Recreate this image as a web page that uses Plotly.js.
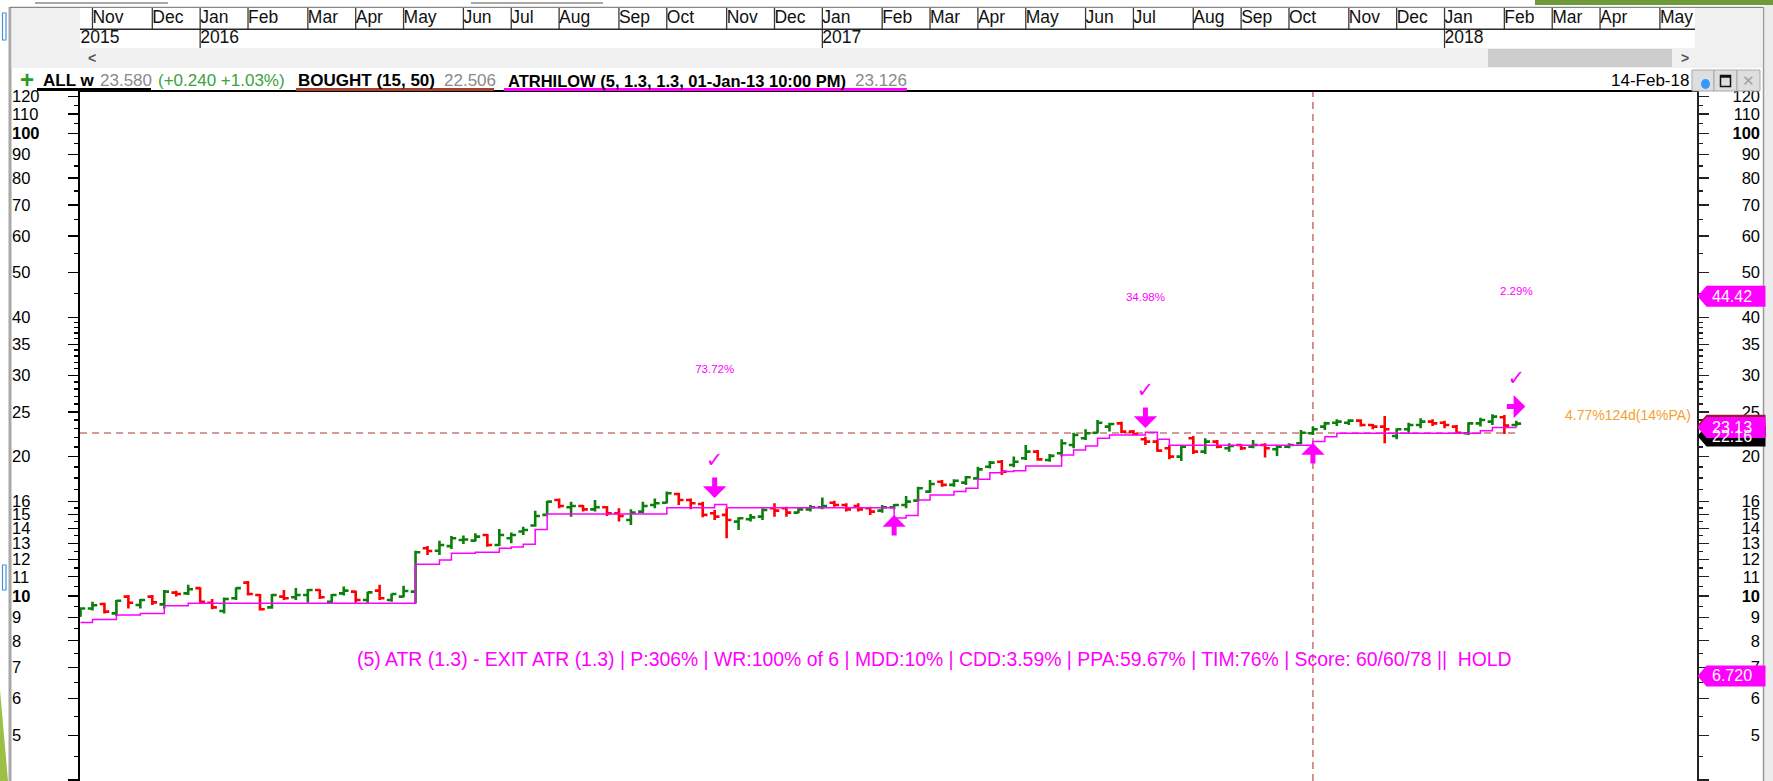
<!DOCTYPE html>
<html><head><meta charset="utf-8">
<script src="https://cdn.plot.ly/plotly-3.0.1.min.js"></script>
<style>html,body{margin:0;padding:0;background:#fff;overflow:hidden}#chart{width:1773px;height:781px}</style>
</head><body><div id="chart"></div>
<script>
const W = 1773, H = 781;
const firstWeek = '2015-10-26';
const opens = [9.05,9.40,9.61,9.17,9.97,9.56,9.97,9.59,10.17,10.13,
10.40,9.67,9.28,9.89,10.69,10.05,9.45,9.97,9.94,10.05,
10.30,9.72,10.13,10.22,9.80,10.27,9.80,9.97,10.22,12.68,
12.53,12.82,13.21,13.17,13.55,12.89,13.33,13.78,14.20,14.97,
16.12,15.55,15.65,15.39,15.55,15.09,14.60,15.22,15.73,15.91,
16.61,16.12,15.81,15.09,14.97,14.48,14.65,14.84,15.47,15.47,
15.14,15.39,15.55,15.91,15.73,15.65,15.47,15.29,15.55,15.73,
16.07,16.81,17.66,17.38,17.58,17.96,19.03,19.51,19.19,19.84,
20.51,19.68,20.34,21.20,21.92,22.54,23.23,23.61,22.66,21.81,
21.56,20.86,20.01,21.92,20.51,21.56,20.86,21.20,21.03,21.20,
20.75,21.03,21.38,22.47,23.23,23.69,23.69,23.93,23.42,23.23,
22.17,22.92,23.42,23.81,23.69,23.23,22.47,23.61,23.81,24.33,
23.42];
const highs = [9.45,9.72,9.67,9.80,10.05,9.85,10.05,10.30,10.27,10.57,
10.45,9.85,9.92,10.43,10.78,10.10,10.10,10.30,10.40,10.36,
10.34,10.10,10.48,10.27,10.22,10.57,10.13,10.52,12.53,12.82,
13.17,13.48,13.51,13.66,13.62,13.96,13.71,14.12,15.29,16.04,
16.25,15.99,15.73,16.12,15.65,15.47,15.39,15.99,16.25,16.81,
16.72,16.25,15.99,15.34,15.47,14.79,15.04,15.47,15.86,15.60,
15.47,15.73,16.33,16.07,15.86,15.86,15.60,15.73,15.81,16.45,
17.23,17.81,17.81,17.87,18.17,19.03,19.58,19.68,20.01,21.20,
20.68,20.28,21.81,22.54,22.92,24.01,23.69,23.81,22.84,22.10,
21.74,21.20,21.20,22.17,21.92,21.74,21.38,21.27,21.74,21.38,
21.20,21.38,22.84,23.23,23.81,24.09,24.09,24.09,23.53,24.49,
23.03,23.69,24.21,24.09,23.93,23.42,23.73,24.29,24.70,24.62,
23.93];
const lows = [9.02,9.30,9.17,9.05,9.40,9.40,9.56,9.40,9.97,10.05,
9.67,9.36,9.17,9.80,10.02,9.30,9.38,9.80,9.80,9.67,
9.85,9.67,10.02,9.67,9.67,9.80,9.72,9.94,9.64,12.27,
12.27,12.63,12.96,13.11,12.78,12.82,13.00,13.55,14.12,14.95,
15.47,14.84,15.22,15.22,14.89,14.48,14.24,15.09,15.47,15.86,
15.73,15.39,14.79,14.60,13.33,13.89,14.48,14.60,14.84,14.84,
15.09,15.22,15.39,15.60,15.22,15.22,14.97,15.14,15.39,15.47,
15.99,16.72,17.23,17.23,17.38,17.87,18.87,18.26,18.97,19.68,
19.61,19.51,20.01,20.86,21.74,22.47,22.66,22.47,22.28,21.20,
20.51,19.74,19.58,20.28,20.28,20.86,20.51,20.68,20.86,19.91,
20.08,20.86,21.31,22.28,22.84,23.30,23.42,23.23,22.92,21.38,
21.81,22.47,23.03,23.30,23.03,22.47,22.28,23.23,23.42,22.40,
23.23];
const closes = [9.40,9.55,9.25,9.77,9.67,9.80,9.69,10.22,10.10,10.34,
9.72,9.45,9.85,10.40,10.10,9.36,10.05,9.89,10.05,10.30,
9.94,10.05,10.27,9.80,10.18,9.89,10.10,10.25,12.43,12.51,
12.89,13.33,13.25,13.44,12.89,13.55,13.55,13.89,14.89,15.99,
15.65,15.65,15.39,15.55,15.09,14.89,15.14,15.65,15.86,16.67,
16.12,15.86,14.97,14.84,14.60,14.72,14.79,15.34,15.29,15.14,
15.39,15.55,15.65,15.73,15.39,15.39,15.22,15.55,15.73,15.99,
17.09,17.46,17.38,17.75,18.05,18.78,19.42,18.57,19.51,20.51,
19.74,20.08,21.38,22.28,22.47,23.69,23.53,22.66,22.40,21.56,
20.61,20.01,21.03,20.51,21.56,21.03,21.10,20.86,21.20,20.86,
21.03,21.20,22.54,22.92,23.61,23.81,23.93,23.42,23.23,22.92,
22.92,23.42,23.81,23.61,23.42,22.54,23.61,24.01,24.41,23.34,
23.58];
const atrStop = [8.76,8.90,8.90,9.10,9.10,9.17,9.17,9.53,9.53,9.64,
9.64,9.64,9.64,9.64,9.64,9.64,9.64,9.64,9.64,9.64,
9.64,9.64,9.64,9.64,9.64,9.64,9.64,9.64,11.71,11.71,
11.96,12.37,12.37,12.43,12.43,12.68,12.76,12.93,13.93,15.04,
15.04,15.04,15.04,15.04,15.04,15.04,15.04,15.04,15.04,15.51,
15.51,15.51,15.51,15.76,15.51,15.51,15.51,15.51,15.51,15.51,
15.51,15.51,15.51,15.51,15.51,15.51,15.51,15.51,14.75,14.92,
16.12,16.53,16.53,16.81,17.09,17.87,18.47,18.57,18.66,19.10,
19.10,19.10,20.17,20.68,21.10,21.92,22.28,22.28,22.28,22.58,
21.81,21.17,21.17,21.17,21.17,21.17,21.17,21.17,21.17,21.17,
21.17,21.17,21.17,21.56,22.10,22.47,22.47,22.47,22.47,22.47,
22.47,22.47,22.47,22.47,22.47,22.47,22.47,22.77,23.13,23.13,
23.126];

const monthLabels = ['Nov','Dec','Jan','Feb','Mar','Apr','May','Jun','Jul','Aug','Sep','Oct','Nov','Dec','Jan','Feb','Mar','Apr','May','Jun','Jul','Aug','Sep','Oct','Nov','Dec','Jan','Feb','Mar','Apr','May'];
const monthStarts = ['2015-11-02','2015-12-07','2016-01-04','2016-02-01','2016-03-07','2016-04-04','2016-05-02','2016-06-06','2016-07-04','2016-08-01','2016-09-05','2016-10-03','2016-11-07','2016-12-05','2017-01-02','2017-02-06','2017-03-06','2017-04-03','2017-05-01','2017-06-05','2017-07-03','2017-08-07','2017-09-04','2017-10-02','2017-11-06','2017-12-04','2018-01-01','2018-02-05','2018-03-05','2018-04-02','2018-05-07'];
const yearLabels = ['2015','2016','2017','2018'];
const yearStarts = ['2015-10-26','2016-01-04','2017-01-02','2018-01-01'];
const yearLines = ['2016-01-04','2017-01-02','2018-01-01'];

const tickVals = [4,5,6,7,8,9,10,11,12,13,14,15,16,20,25,30,35,40,50,60,70,80,90,100,110,120];
const tickText = tickVals.map(v => (v === 10 || v === 100) ? '<b>' + v + '</b>' : String(v));
const minorVals = [4.5,5.5,6.5,7.5,8.5,9.5,10.5,11.5,12.5,13.5,14.5,15.5,17,18,19,21,22,23,24,26,27,28,29,31,32,33,34,36,37,38,39,45,55,65,75,85,95,105,115];

const boughtPrice = 22.506;
const buyBar = 103;
const entryBars = [68, 103];
const entryTips = [14.96, 21.40];
const exitBars = [53, 89];
const exitTips = [16.29, 23.07];
const exitChecks = [19.52, 27.66];
const exitPctText = ['73.72%', '34.98%'];
const exitPctY = [30.79, 44.0];
const openBar = 120;
const openArrowY = 25.66, openCheckY = 29.31, openPctText = '2.29%', openPctY = 45.3;
const openTradeText = '4.77%124d(14%PA)', openTradeY = 24.62;
const tagValues = [44.42, 6.720];
const tagTexts = ['44.42', '6.720'];
const stackTags = [{v: 23.40, t: '', c: '#9b1b2a'}, {v: 22.16, t: '22.16', c: '#000000'}, {v: 23.13, t: '23.13', c: '#ff00ff'}];
const statsText = '(5) ATR (1.3) - EXIT ATR (1.3) | P:306% | WR:100% of 6 | MDD:10% | CDD:3.59% | PPA:59.67% | TIM:76% | Score: 60/60/78 ||  HOLD';

const DAY = 864e5;
const t0 = Date.parse(firstWeek);
const weeks = opens.map((_, i) => new Date(t0 + i * 7 * DAY).toISOString().slice(0, 10));
const fmt = ms => new Date(ms).toISOString().replace('T', ' ').slice(0, 19);
const xStart = t0 - 0.3 * DAY;
const xRange = [fmt(xStart), fmt(xStart + 946.0 * DAY)];
const yRange = [Math.log10(3.983), Math.log10(123.1)];

const px = v => v / W, py = v => 1 - v / H;
const FONT = "'Liberation Sans', Arial, sans-serif";

const traces = [];
traces.push({type: 'scatter', mode: 'lines', x: weeks, y: atrStop, xaxis: 'x', yaxis: 'y',
  line: {shape: 'hv', color: '#ff00ff', width: 1.5}, hoverinfo: 'skip'});
traces.push({type: 'ohlc', x: weeks, open: opens, high: highs, low: lows, close: closes, xaxis: 'x', yaxis: 'y',
  increasing: {line: {color: '#0a800a', width: 2.6}}, decreasing: {line: {color: '#ff0000', width: 2.6}},
  tickwidth: 0.4, hoverinfo: 'skip'});
// check marks
traces.push({type: 'scatter', mode: 'text', x: exitBars.map(i => weeks[i]).concat([weeks[openBar]]),
  y: exitChecks.concat([openCheckY]), text: ['✓', '✓', '✓'], textposition: 'middle center',
  textfont: {family: 'DejaVu Sans', size: 21, color: '#ff00ff'}, cliponaxis: false, hoverinfo: 'skip'});
// percent labels
traces.push({type: 'scatter', mode: 'text', x: exitBars.map(i => weeks[i]).concat([weeks[openBar]]),
  y: exitPctY.concat([openPctY]), text: exitPctText.concat([openPctText]), textposition: 'middle center',
  textfont: {family: FONT, size: 11.5, color: '#ff00ff'}, cliponaxis: false, hoverinfo: 'skip'});
// dummy traces for label axes
['y2', 'y3', 'y4'].forEach(ya => traces.push({type: 'scatter', mode: 'markers', x: [weeks[0]], y: [closes[0]], xaxis: 'x', yaxis: ya, marker: {opacity: 0}, hoverinfo: 'skip'}));
// header months
const sepX = [], sepY = [];
monthStarts.forEach(d => { sepX.push(d, d, null); sepY.push(18.7, 40.5, null); });
yearLines.forEach(d => { sepX.push(d, d, null); sepY.push(0, 18.7, null); });
traces.push({type: 'scatter', mode: 'lines', x: sepX, y: sepY, xaxis: 'x2', yaxis: 'y5', line: {color: '#3a3a3a', width: 1.3}, hoverinfo: 'skip', cliponaxis: false});
traces.push({type: 'scatter', mode: 'text', x: monthStarts, y: monthStarts.map(() => 29.2), text: monthLabels, xaxis: 'x2', yaxis: 'y5',
  textposition: 'middle right', textfont: {family: FONT, size: 17.5, color: '#111'}, cliponaxis: false, hoverinfo: 'skip'});
traces.push({type: 'scatter', mode: 'text', x: yearStarts, y: yearStarts.map(() => 9.2), text: yearLabels, xaxis: 'x2', yaxis: 'y5',
  textposition: 'middle right', textfont: {family: FONT, size: 17.5, color: '#111'}, cliponaxis: false, hoverinfo: 'skip'});

function rect(x0, y0, x1, y1, fill, lineColor, lw) {
  return {type: 'rect', xref: 'paper', yref: 'paper', x0: px(x0), x1: px(x1), y0: py(y1), y1: py(y0),
    fillcolor: fill, line: {color: lineColor || fill, width: lineColor ? (lw || 1) : 0}, layer: 'above'};
}
function hline(x0, x1, y, color, w) {
  return {type: 'line', xref: 'paper', yref: 'paper', x0: px(x0), x1: px(x1), y0: py(y), y1: py(y), line: {color, width: w}, layer: 'above'};
}
function vline(x, y0, y1, color, w) {
  return {type: 'line', xref: 'paper', yref: 'paper', x0: px(x), x1: px(x), y0: py(y1), y1: py(y0), line: {color, width: w}, layer: 'above'};
}

const shapes = [];
// chrome
shapes.push(rect(1764, 0, 1773, 781, '#ececec'));
shapes.push(vline(1763.5, 7, 781, '#9a9a9a', 1.5));
shapes.push(rect(1535, 0, 1773, 5, '#6d9b3a'));
shapes.push(hline(35, 168, 3, '#a8a8a8', 2));
shapes.push(hline(471, 603, 3, '#a8a8a8', 2));
shapes.push(rect(8.5, 7, 11.5, 781, '#a8a8a8'));
shapes.push({type: 'path', xref: 'paper', yref: 'paper', path: `M ${px(0)} ${py(690)} L ${px(8)} ${py(781)} L ${px(0)} ${py(781)} Z`, fillcolor: '#9cbf45', line: {width: 0}, layer: 'above'});
shapes.push(rect(2.5, 13, 6, 40, 'rgba(0,0,0,0)', '#4a90e2', 1.2));
shapes.push(rect(2.5, 565, 6, 590, 'rgba(0,0,0,0)', '#4a90e2', 1.2));
shapes.push(rect(11.5, 7.5, 80, 68, '#f0f0f0'));
shapes.push(rect(1695, 7.5, 1762.5, 68, '#f0f0f0'));
shapes.push(rect(80, 48, 1697, 68, '#f0f0f0'));
shapes.push(rect(1488, 49, 1672, 67, '#cdcdcd'));
shapes.push(hline(10, 1763, 7.3, '#6a6a6a', 1));
shapes.push(hline(80, 1695, 29.3, '#2a2a2a', 1.5));
// legend underlines
shapes.push(rect(37, 88, 151, 91, '#000000'));
shapes.push(rect(296, 88, 494, 91, '#a5402a'));
shapes.push(rect(504, 88, 907, 91, '#ff00ff'));
// window buttons
shapes.push(rect(1692, 70, 1714, 91, '#dedede', '#a8a8a8', 1));
shapes.push(rect(1714, 70, 1737, 91, '#dedede', '#a8a8a8', 1));
shapes.push(rect(1737, 70, 1760, 91, '#dedede', '#a8a8a8', 1));
shapes.push({type: 'circle', xref: 'paper', yref: 'paper', x0: px(1701), x1: px(1710), y0: py(89), y1: py(79), fillcolor: '#3399ff', line: {width: 0}, layer: 'above'});
shapes.push(rect(1720.5, 75.5, 1730.5, 86.5, 'rgba(0,0,0,0)', '#111', 1.5));
shapes.push(hline(1720.5, 1730.5, 76.5, '#111', 2.5));
// bought line and buy vertical
shapes.push({type: 'line', xref: 'x', yref: 'y', x0: xRange[0], x1: weeks[openBar], y0: boughtPrice, y1: boughtPrice,
  line: {color: '#c87a7a', width: 1.6, dash: '7px,5px'}, layer: 'below'});
shapes.push({type: 'line', xref: 'x', yref: 'y domain', x0: weeks[buyBar], x1: weeks[buyBar], y0: 0, y1: 1,
  line: {color: '#c87a7a', width: 1.6, dash: '7px,5px'}, layer: 'below'});
// value tags
const tagPath = 'M0,0 L9,10.5 L68,10.5 L68,-10.5 L9,-10.5 Z';
function tagShape(v, color) {
  return {type: 'path', xref: 'paper', yref: 'y', xsizemode: 'pixel', ysizemode: 'pixel', xanchor: px(1697.5), yanchor: v,
    path: tagPath, fillcolor: color, line: {width: 0}, layer: 'above'};
}
tagValues.forEach(v => shapes.push(tagShape(v, '#ff00ff')));
stackTags.forEach(t => shapes.push(tagShape(t.v, t.c)));

const annotations = [];
function txt(x, y, text, size, color, anchor, extra) {
  return Object.assign({xref: 'paper', yref: 'paper', x: px(x), y: py(y), text, showarrow: false, xanchor: anchor || 'left', yanchor: 'middle',
    font: {family: FONT, size, color}, borderpad: 0}, extra || {});
}
annotations.push(txt(19, 80, '<b>+</b>', 24, '#2a9a2a'));
annotations.push(txt(42, 81, '<b>ALL w</b>', 17, '#000'));
annotations.push(txt(99, 81, '23.580', 17, '#8a8a8a'));
annotations.push(txt(157, 81, '(+0.240 +1.03%)', 17, '#3aa33a'));
annotations.push(txt(297, 81, '<b>BOUGHT (15, 50)</b>', 17, '#000'));
annotations.push(txt(443, 81, '22.506', 17, '#8a8a8a'));
annotations.push(txt(507, 81, '<b>ATRHILOW (5, 1.3, 1.3, 01-Jan-13 10:00 PM)</b>', 16.5, '#000'));
annotations.push(txt(854, 81, '23.126', 17, '#8a8a8a'));
annotations.push(txt(1690, 81, '14-Feb-18', 17, '#000', 'right'));
annotations.push(txt(1748.5, 81, '✕', 15, '#a0a0a0', 'center'));
annotations.push(txt(87, 58, '<b>&lt;</b>', 14, '#555'));
annotations.push(txt(1680, 58, '<b>&gt;</b>', 14, '#555'));
annotations.push(txt(934, 659, statsText, 19.4, '#ff00ff', 'center'));
annotations.push({xref: 'paper', yref: 'y', x: px(1693), y: Math.log10(openTradeY), text: openTradeText, showarrow: false, xanchor: 'right', yanchor: 'middle',
  font: {family: FONT, size: 14, color: '#f5a030'}});
tagValues.forEach((v, k) => annotations.push({xref: 'paper', yref: 'y', x: px(1710), y: Math.log10(v), text: tagTexts[k], showarrow: false,
  xanchor: 'left', yanchor: 'middle', font: {family: FONT, size: 16, color: '#fff'}}));
stackTags.forEach(t => { if (t.t) annotations.push({xref: 'paper', yref: 'y', x: px(1710), y: Math.log10(t.v), text: t.t, showarrow: false,
  xanchor: 'left', yanchor: 'middle', font: {family: FONT, size: 16, color: '#fff'}}); });
// arrows
function arrow(i, v, ax, ay, xshift) {
  return {xref: 'x', yref: 'y', x: weeks[i], y: Math.log10(v), text: '', showarrow: true, arrowhead: 1, arrowsize: 0.78, arrowwidth: 5,
    arrowcolor: '#ff00ff', ax, ay, standoff: 0, xshift: xshift || 0};
}
exitBars.forEach((b, k) => annotations.push(arrow(b, exitTips[k], 0, -22)));
entryBars.forEach((b, k) => annotations.push(arrow(b, entryTips[k], 0, 22)));
annotations.push(arrow(openBar, openArrowY, -20, 0, 9));

const yBase = {type: 'log', range: yRange, showgrid: false, zeroline: false, tickmode: 'array', fixedrange: true};
const layout = {
  width: W, height: H, margin: {l: 0, r: 0, t: 0, b: 0}, paper_bgcolor: '#fff', plot_bgcolor: '#fff',
  showlegend: false, hovermode: false, font: {family: FONT, color: '#000'},
  xaxis: {type: 'date', domain: [px(80), px(1697)], range: xRange, anchor: 'y', side: 'top', showline: true, linecolor: '#000', linewidth: 1.5,
    showticklabels: false, ticks: '', showgrid: false, zeroline: false, rangeslider: {visible: false}, fixedrange: true},
  xaxis2: {type: 'date', domain: [px(80), px(1697)], range: xRange, anchor: 'y5', visible: false, fixedrange: true},
  yaxis: Object.assign({}, yBase, {domain: [0, py(91.5)], anchor: 'x', side: 'left', showline: true, linecolor: '#000', linewidth: 2,
    ticks: 'outside', ticklen: 10, tickwidth: 1.3, tickcolor: '#000', tickvals: tickVals, showticklabels: false,
    minor: {tickmode: 'array', tickvals: minorVals, ticks: 'outside', ticklen: 4, tickwidth: 1.3, tickcolor: '#000', showgrid: false}}),
  yaxis2: Object.assign({}, yBase, {overlaying: 'y', anchor: 'x', side: 'right', showline: true, linecolor: '#222', linewidth: 2,
    ticks: 'outside', ticklen: 10, tickwidth: 1.3, tickcolor: '#222', tickvals: tickVals, showticklabels: false,
    minor: {tickmode: 'array', tickvals: minorVals, ticks: 'outside', ticklen: 4, tickwidth: 1.3, tickcolor: '#222', showgrid: false}}),
  yaxis3: Object.assign({}, yBase, {overlaying: 'y', anchor: 'free', position: px(11), side: 'right', showline: false, ticks: '',
    tickvals: tickVals, ticktext: tickText, tickfont: {family: FONT, size: 16.5, color: '#000'}}),
  yaxis4: Object.assign({}, yBase, {overlaying: 'y', anchor: 'free', position: px(1760), side: 'left', showline: false, ticks: '',
    tickvals: tickVals, ticktext: tickText, tickfont: {family: FONT, size: 16.5, color: '#000'}}),
  yaxis5: {domain: [py(48), py(7.5)], range: [0, 40.5], anchor: 'x2', visible: false, fixedrange: true},
  shapes, annotations
};
Plotly.newPlot('chart', traces, layout, {displayModeBar: false, staticPlot: true});
</script></body></html>
